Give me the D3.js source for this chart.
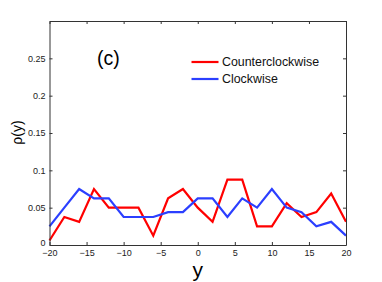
<!DOCTYPE html>
<html>
<head>
<meta charset="utf-8">
<script src="https://cdn.jsdelivr.net/npm/d3@7"></script>
<style>
  body { margin: 0; background: #fff; }
  text { font-family: "Liberation Sans", Arial, sans-serif; }
</style>
</head>
<body>
<script>
// positions sampled every 2 units
const yPos = d3.range(-20, 21, 2)
const counterclockwise = [0.006, 0.0375, 0.031, 0.075, 0.05, 0.05, 0.05, 0.0125, 0.0625, 0.075, 0.05,
  0.031, 0.0875, 0.0875, 0.025, 0.025, 0.056, 0.0375, 0.044, 0.069, 0.031]
const clockwise = [0.025, 0.05, 0.075, 0.0625, 0.0625, 0.0375, 0.0375, 0.0375, 0.044, 0.044, 0.0625,
  0.0625, 0.0375, 0.0625, 0.05, 0.075, 0.05, 0.044, 0.025, 0.031, 0.0125]
const xTicks = [-20, -15, -10, -5, 0, 5, 10, 15, 20]
const yTicks = [0, 0.05, 0.1, 0.15, 0.2, 0.25]
const seriesNames = ["Counterclockwise", "Clockwise"]
const seriesColors = ["#ff0000", "#2b3fff"]

const width = 382, height = 282
const margin = {top: 21, right: 36, bottom: 37, left: 49.5}

const svg = d3.select("body").append("svg")
  .attr("width", width)
  .attr("height", height)

const x = d3.scaleLinear().domain([-20, 20]).range([margin.left, width - margin.right])
const y = d3.scaleLinear().domain([0, 0.3]).range([height - margin.bottom, margin.top])

const series = [counterclockwise, clockwise]

// lines
const line = d3.line()
  .x((d, i) => x(yPos[i]))
  .y(d => y(d))

svg.append("g")
  .attr("fill", "none")
  .attr("stroke-width", 2.2)
  .attr("stroke-linejoin", "miter")
  .selectAll("path")
  .data(series)
  .join("path")
    .attr("stroke", (d, i) => seriesColors[i])
    .attr("d", line)

// axes (ticks inward, box)
const axisColor = "#333"
const axBottom = svg.append("g")
  .attr("transform", `translate(0,${y(0)})`)
  .call(d3.axisBottom(x).tickValues(xTicks).tickSizeInner(-3).tickSizeOuter(0).tickPadding(5)
    .tickFormat(d => d < 0 ? "\u2212" + Math.abs(d) : d))
const axTop = svg.append("g")
  .attr("transform", `translate(0,${margin.top})`)
  .call(d3.axisTop(x).tickValues(xTicks).tickSizeInner(-3).tickSizeOuter(0).tickFormat(""))
const axLeft = svg.append("g")
  .attr("transform", `translate(${margin.left},0)`)
  .call(d3.axisLeft(y).tickValues(yTicks).tickSizeInner(-3).tickSizeOuter(0).tickPadding(4)
    .tickFormat(d => d))
const axRight = svg.append("g")
  .attr("transform", `translate(${width - margin.right},0)`)
  .call(d3.axisRight(y).tickValues(yTicks).tickSizeInner(-3).tickSizeOuter(0).tickFormat(""))

for (const g of [axBottom, axTop, axLeft, axRight]) {
  g.select(".domain").attr("stroke", axisColor).attr("stroke-width", 1)
  g.selectAll(".tick line").attr("stroke", axisColor)
  g.selectAll(".tick text").attr("fill", "#222").attr("font-size", 9)
    .style("font-family", "'Liberation Sans', Arial, sans-serif")
}
// the zero label sits a touch above the corner, clear of the x labels
axLeft.selectAll(".tick text").filter(d => d === 0).attr("dy", "0.1em")

// axis labels
svg.append("text")
  .attr("x", x(0))
  .attr("y", 277)
  .attr("text-anchor", "middle")
  .attr("font-size", 21)
  .text("y")

svg.append("text")
  .attr("transform", `translate(22,132.5) rotate(-90)`)
  .attr("text-anchor", "middle")
  .attr("font-size", 14)
  .text("ρ(y)")

// panel tag
svg.append("text")
  .attr("x", 97)
  .attr("y", 65)
  .attr("font-size", 19.5)
  .text("(c)")

// legend
const legend = svg.append("g")
  .selectAll("g")
  .data(seriesNames)
  .join("g")
    .attr("transform", (d, i) => `translate(191.5,${62 + i * 17})`)
legend.append("line")
  .attr("x1", 0).attr("x2", 27)
  .attr("stroke", (d, i) => seriesColors[i])
  .attr("stroke-width", 2.2)
legend.append("text")
  .attr("x", 30.5)
  .attr("dy", "0.35em")
  .attr("font-size", 12.4)
  .attr("fill", "#111")
  .text(d => d)
</script>
</body>
</html>
